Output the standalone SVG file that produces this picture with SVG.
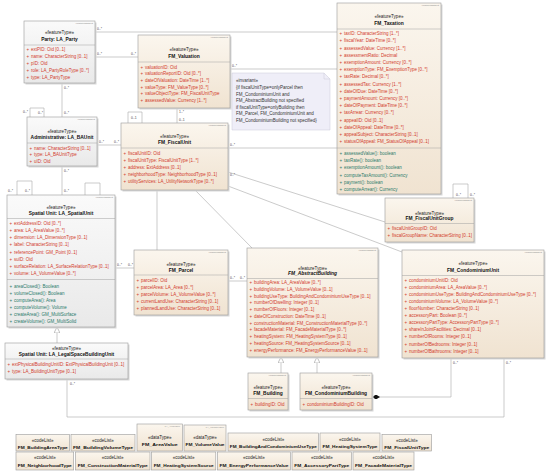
<svg xmlns="http://www.w3.org/2000/svg" width="550" height="471" viewBox="0 0 550 471">
<defs>
<linearGradient id="gb" x1="0" y1="0" x2="0" y2="1"><stop offset="0" stop-color="#fbf6ee"/><stop offset="1" stop-color="#f0e3d1"/></linearGradient>
<linearGradient id="gg" x1="0" y1="0" x2="0" y2="1"><stop offset="0" stop-color="#fafafa"/><stop offset="1" stop-color="#e9e9e9"/></linearGradient>
<marker id="gen" viewBox="0 0 10 10" refX="10" refY="5" markerWidth="6" markerHeight="6" markerUnits="userSpaceOnUse" orient="auto"><path d="M0,0 L10,5 L0,10 Z" fill="#fff" stroke="#999" stroke-width="1"/></marker>
<marker id="dia" viewBox="0 0 10 6" refX="0" refY="3" markerWidth="8" markerHeight="4.8" markerUnits="userSpaceOnUse" orient="auto"><path d="M0,3 L5,0 L10,3 L5,6 Z" fill="#111"/></marker>
</defs>
<style>
.b{fill:url(#gb);stroke:#9a9a9a;stroke-width:0.6}
.g{fill:url(#gg);stroke:#9a9a9a;stroke-width:0.6}
.sh{fill:#d8d8d8}
.s{stroke:#a0a0a0;stroke-width:0.5}
text{font-family:"Liberation Sans",Arial,sans-serif}
.st{font-size:4.5px;text-anchor:middle;fill:#222}
.n{font-size:4.9px;font-weight:bold;text-anchor:middle;fill:#111}
.cn{font-size:4.3px;font-weight:bold;text-anchor:middle;fill:#111}
.a{font-size:4.5px;fill:#d23b2c}
.o{font-size:4.5px;fill:#2b7b6b}
.v{font-size:2.4px;fill:#888;text-anchor:end}
.m{font-size:3.4px;fill:#444}
.c{fill:none;stroke:#a8a8a8;stroke-width:0.6}
.nt{fill:#efeef8;stroke:#c8c8d8;stroke-width:0.5}
.ntx{font-size:4.5px;fill:#333}
</style>

<g id="connectors">
<path class="c" d="M95,32 H337"/>
<path class="c" d="M95,57 H138"/>
<path class="c" d="M62,83 V117"/>
<path class="c" d="M97,145 H121"/>
<path class="c" d="M62,166 V195"/>
<path class="c" d="M177,108 V123"/>
<path class="c" d="M230,69 H337"/>
<path class="c" d="M228,148 H337"/>
<path class="c" d="M228,172 L385,222"/>
<path class="c" d="M228,186 L402,252"/>
<path class="c" d="M157,190 V250"/>
<path class="c" d="M195,190 L252,248"/>
<path class="c" d="M115,268 H134"/>
<path class="c" d="M228,281 H247"/>
<path class="c" d="M57,343 V327" marker-end="url(#gen)"/>
<path class="c" d="M281,373 V357" marker-end="url(#gen)"/>
<path class="c" d="M317,373 V357" marker-end="url(#gen)"/>
<path class="c" d="M372,397 H451 V358" marker-start="url(#dia)"/>
<path class="c" d="M67,379 V417 H504 V358"/>
<path class="c" d="M17,195 V181 H32 V195"/>
<path class="c" d="M85,195 V183 H100 V195"/>
<path class="c" d="M128,123 V112 H142 V123"/>
<path class="c" d="M453,198 V184 H468 V198"/>
<path class="c" d="M30,117 V108 H44 V117"/>
<text class="m" x="97" y="30">0..*</text>
<text class="m" x="97" y="55">0..*</text>
<text class="m" x="131" y="55">0..*</text>
<text class="m" x="64" y="89">0..*</text>
<text class="m" x="64" y="114">0..*</text>
<text class="m" x="23" y="113">0..*</text>
<text class="m" x="38" y="114">0..*</text>
<text class="m" x="99" y="143">0..*</text>
<text class="m" x="114" y="143">0..*</text>
<text class="m" x="64" y="172">0..*</text>
<text class="m" x="64" y="192">0..*</text>
<text class="m" x="179" y="113">1..*</text>
<text class="m" x="179" y="121">0..1</text>
<text class="m" x="131" y="119">0..1</text>
<text class="m" x="232" y="67">0..*</text>
<text class="m" x="230" y="146">0..*</text>
<text class="m" x="230" y="176">0..*</text>
<text class="m" x="8" y="192">0..*</text>
<text class="m" x="25" y="192">0..*</text>
<text class="m" x="117" y="266">0..*</text>
<text class="m" x="128" y="266">0..*</text>
<text class="m" x="230" y="279">0..*</text>
<text class="m" x="240" y="279">0..*</text>
<text class="m" x="456" y="196">0..*</text>
<text class="m" x="470" y="196">0..*</text>
<text class="m" x="453" y="364">0..*</text>
<text class="m" x="506" y="364">0..*</text>
<text class="m" x="70" y="385">0..*</text>
</g>

<g id="party">
<rect class="sh" x="25.5" y="22.5" width="71" height="62"/>
<rect class="g" x="24" y="21" width="71" height="62"/>
<line class="s" x1="24" y1="45" x2="95" y2="45"/>
<text class="v" x="93" y="24">VersionedObject</text>
<text class="st" x="59.5" y="34.3">«featureType»</text>
<text class="n" x="59.5" y="41">Party: LA_Party</text>
<text class="a" x="26.5" y="51">+<tspan x="31">extPID: Oid [0..1]</tspan></text>
<text class="a" x="26.5" y="58">+<tspan x="31">name: CharacterString [0..1]</tspan></text>
<text class="a" x="26.5" y="65">+<tspan x="31">pID: Oid</tspan></text>
<text class="a" x="26.5" y="72">+<tspan x="31">role: LA_PartyRoleType [0..*]</tspan></text>
<text class="a" x="26.5" y="79">+<tspan x="31">type: LA_PartyType</tspan></text>
</g>

<g id="valuation">
<rect class="sh" x="139.5" y="36.5" width="92" height="73"/>
<rect class="b" x="138" y="35" width="92" height="73"/>
<line class="s" x1="138" y1="62" x2="230" y2="62"/>
<text class="v" x="228" y="38">VersionedObject</text>
<text class="st" x="184" y="50.6">«featureType»</text>
<text class="n" x="184" y="57.6">FM_Valuation</text>
<text class="a" x="140.5" y="68.6">+<tspan x="145">valuationID: Oid</tspan></text>
<text class="a" x="140.5" y="75.3">+<tspan x="145">valuationReportID: Oid [0..*]</tspan></text>
<text class="a" x="140.5" y="82">+<tspan x="145">dateOfValuation: DateTime [1..*]</tspan></text>
<text class="a" x="140.5" y="88.7">+<tspan x="145">valueType: FM_ValueType [0..*]</tspan></text>
<text class="a" x="140.5" y="95.4">+<tspan x="145">valueObjectType: FM_FiscalUnitType</tspan></text>
<text class="a" x="140.5" y="102.1">+<tspan x="145">assessedValue: Currency [1..*]</tspan></text>
</g>

<g id="invariant">
<path class="nt" d="M232,73 H324 L330,79 V130 H232 Z"/>
<path d="M324,73 V79 H330" fill="none" stroke="#c8c8d8" stroke-width="0.5"/>
<text class="ntx" x="236" y="82">«invariant»</text>
<text class="ntx" x="236" y="89">{if fiscalUnitType=onlyParcel then</text>
<text class="ntx" x="236" y="95.5">FM_CondominiumUnit and</text>
<text class="ntx" x="236" y="102">FM_AbstractBuilding  not specified</text>
<text class="ntx" x="236" y="108.5">if fiscalUnitType=onlyBuilding then</text>
<text class="ntx" x="236" y="115">FM_Parcel, FM_CondominiumUnit and</text>
<text class="ntx" x="236" y="121.5">FM_CondominiumBuilding not specified}</text>
</g>

<g id="taxation">
<rect class="sh" x="338.5" y="4.5" width="104" height="191"/>
<rect class="b" x="337" y="3" width="104" height="191"/>
<line class="s" x1="337" y1="29" x2="441" y2="29"/>
<line class="s" x1="337" y1="148" x2="441" y2="148"/>
<text class="v" x="439" y="6">VersionedObject</text>
<text class="st" x="389" y="17.6">«featureType»</text>
<text class="n" x="389" y="25.3">FM_Taxation</text>
<text class="a" x="339.5" y="35.1">+<tspan x="344">taxID: CharacterString [1..*]</tspan></text>
<text class="a" x="339.5" y="42.3">+<tspan x="344">fiscalYear: DateTime [0..*]</tspan></text>
<text class="a" x="339.5" y="49.5">+<tspan x="344">assessedValue: Currency [1..*]</tspan></text>
<text class="a" x="339.5" y="56.7">+<tspan x="344">assessmentRatio: Decimal</tspan></text>
<text class="a" x="339.5" y="63.9">+<tspan x="344">exemptionAmount: Currency [0..*]</tspan></text>
<text class="a" x="339.5" y="71.1">+<tspan x="344">exemptionType: FM_ExemptionType [0..*]</tspan></text>
<text class="a" x="339.5" y="78.3">+<tspan x="344">taxRate: Decimal [0..*]</tspan></text>
<text class="a" x="339.5" y="85.5">+<tspan x="344">assessedTax: Currency [1..*]</tspan></text>
<text class="a" x="339.5" y="92.7">+<tspan x="344">dateOfDue: DateTime [0..*]</tspan></text>
<text class="a" x="339.5" y="99.9">+<tspan x="344">paymentAmount: Currency [0..*]</tspan></text>
<text class="a" x="339.5" y="107.1">+<tspan x="344">dateOfPayment: DateTime [0..*]</tspan></text>
<text class="a" x="339.5" y="114.3">+<tspan x="344">taxArrear: Currency [0..*]</tspan></text>
<text class="a" x="339.5" y="121.5">+<tspan x="344">appealID: Oid [0..1]</tspan></text>
<text class="a" x="339.5" y="128.7">+<tspan x="344">dateOfAppeal: DateTime [0..*]</tspan></text>
<text class="a" x="339.5" y="135.9">+<tspan x="344">appealSubject: CharacterString [0..1]</tspan></text>
<text class="a" x="339.5" y="143.1">+<tspan x="344">statusOfAppeal: FM_StatusOfAppeal [0..1]</tspan></text>
<text class="o" x="339.5" y="154.9">+<tspan x="344">assessedValue(): boolean</tspan></text>
<text class="o" x="339.5" y="162.1">+<tspan x="344">taxRate(): boolean</tspan></text>
<text class="o" x="339.5" y="169.3">+<tspan x="344">exemptionAmount(): boolean</tspan></text>
<text class="o" x="339.5" y="176.5">+<tspan x="344">computeTaxAmount(): Currency</tspan></text>
<text class="o" x="339.5" y="183.7">+<tspan x="344">payment(): boolean</tspan></text>
<text class="o" x="339.5" y="190.9">+<tspan x="344">computeArrear(): Currency</tspan></text>
</g>

<g id="administrative">
<rect class="sh" x="28.5" y="118.5" width="70" height="49"/>
<rect class="g" x="27" y="117" width="70" height="49"/>
<line class="s" x1="27" y1="143" x2="97" y2="143"/>
<text class="v" x="95" y="120">VersionedObject</text>
<text class="st" x="62" y="132.6">«featureType»</text>
<text class="n" x="62" y="138.8">Administrative: LA_BAUnit</text>
<text class="a" x="29.5" y="149.6">+<tspan x="34">name: CharacterString [0..1]</tspan></text>
<text class="a" x="29.5" y="156.3">+<tspan x="34">type: LA_BAUnitType</tspan></text>
<text class="a" x="29.5" y="163">+<tspan x="34">uID: Oid</tspan></text>
</g>

<g id="fiscalunit">
<rect class="sh" x="122.5" y="124.5" width="107" height="67"/>
<rect class="b" x="121" y="123" width="107" height="67"/>
<line class="s" x1="121" y1="148" x2="228" y2="148"/>
<text class="v" x="226" y="126">VersionedObject</text>
<text class="st" x="174.5" y="137.6">«featureType»</text>
<text class="n" x="174.5" y="143.8">FM_FiscalUnit</text>
<text class="a" x="123.5" y="155">+<tspan x="128">fiscalUnitID: Oid</tspan></text>
<text class="a" x="123.5" y="162">+<tspan x="128">fiscalUnitType: FiscalUnitType [1..*]</tspan></text>
<text class="a" x="123.5" y="169">+<tspan x="128">address: ExtAddress [0..1]</tspan></text>
<text class="a" x="123.5" y="176">+<tspan x="128">neighborhoodType: NeighborhoodType [0..1]</tspan></text>
<text class="a" x="123.5" y="183">+<tspan x="128">utilityServices: LA_UtilityNetworkType [0..*]</tspan></text>
</g>

<g id="spatialunit">
<rect class="sh" x="8.5" y="196.5" width="108" height="132"/>
<rect class="g" x="7" y="195" width="108" height="132"/>
<line class="s" x1="7" y1="218.5" x2="115" y2="218.5"/>
<line class="s" x1="7" y1="279.5" x2="115" y2="279.5"/>
<text class="v" x="113" y="198">VersionedObject</text>
<text class="st" x="61" y="208.6">«featureType»</text>
<text class="n" x="61" y="214.8">Spatial Unit: LA_SpatialUnit</text>
<text class="a" x="9.5" y="225.1">+<tspan x="14">extAddressID: Oid [0..*]</tspan></text>
<text class="a" x="9.5" y="232.2">+<tspan x="14">area: LA_AreaValue [0..*]</tspan></text>
<text class="a" x="9.5" y="239.3">+<tspan x="14">dimension: LA_DimensionType [0..1]</tspan></text>
<text class="a" x="9.5" y="246.4">+<tspan x="14">label: CharacterString [0..1]</tspan></text>
<text class="a" x="9.5" y="253.5">+<tspan x="14">referencePoint: GM_Point [0..1]</tspan></text>
<text class="a" x="9.5" y="260.6">+<tspan x="14">suID: Oid</tspan></text>
<text class="a" x="9.5" y="267.7">+<tspan x="14">surfaceRelation: LA_SurfaceRelationType [0..1]</tspan></text>
<text class="a" x="9.5" y="274.8">+<tspan x="14">volume: LA_VolumeValue [0..*]</tspan></text>
<text class="o" x="9.5" y="287.6">+<tspan x="14">areaClosed(): Boolean</tspan></text>
<text class="o" x="9.5" y="294.7">+<tspan x="14">volumeClosed(): Boolean</tspan></text>
<text class="o" x="9.5" y="301.8">+<tspan x="14">computeArea(): Area</tspan></text>
<text class="o" x="9.5" y="308.9">+<tspan x="14">computeVolume(): Volume</tspan></text>
<text class="o" x="9.5" y="316">+<tspan x="14">createArea(): GM_MultiSurface</tspan></text>
<text class="o" x="9.5" y="323.1">+<tspan x="14">createVolume(): GM_MultiSolid</tspan></text>
</g>

<g id="parcel">
<rect class="sh" x="135.5" y="251.5" width="94" height="65"/>
<rect class="b" x="134" y="250" width="94" height="65"/>
<line class="s" x1="134" y1="275" x2="228" y2="275"/>
<text class="v" x="226" y="253">VersionedObject</text>
<text class="st" x="181" y="265.6">«featureType»</text>
<text class="n" x="181" y="271.6">FM_Parcel</text>
<text class="a" x="136.5" y="281.6">+<tspan x="141">parcelID: Oid</tspan></text>
<text class="a" x="136.5" y="288.8">+<tspan x="141">parcelArea: LA_Area [0..*]</tspan></text>
<text class="a" x="136.5" y="296">+<tspan x="141">parcelVolume: LA_VolumeValue [0..*]</tspan></text>
<text class="a" x="136.5" y="303.2">+<tspan x="141">currentLandUse: CharacterString [0..1]</tspan></text>
<text class="a" x="136.5" y="310.4">+<tspan x="141">plannedLandUse: CharacterString [0..1]</tspan></text>
</g>

<g id="abstractbuilding">
<rect class="sh" x="248.5" y="249.5" width="131" height="109"/>
<rect class="b" x="247" y="248" width="131" height="109"/>
<line class="s" x1="247" y1="278.5" x2="378" y2="278.5"/>
<text class="v" x="376" y="251">VersionedObject</text>
<text class="st" x="312.5" y="269.6">«featureType»</text>
<text class="n" x="312.5" y="275.3" font-style="italic">FM_AbstractBuilding</text>
<text class="a" x="249.5" y="284.1">+<tspan x="254">buildingArea: LA_AreaValue [0..*]</tspan></text>
<text class="a" x="249.5" y="290.85">+<tspan x="254">buildingVolume: LA_VolumeValue [0..1]</tspan></text>
<text class="a" x="249.5" y="297.6">+<tspan x="254">buildingUseType: BuildingAndCondominiumUseType [0..1]</tspan></text>
<text class="a" x="249.5" y="304.35">+<tspan x="254">numberOfDwelling: Integer [0..1]</tspan></text>
<text class="a" x="249.5" y="311.1">+<tspan x="254">numberOfFloors: Integer [0..1]</tspan></text>
<text class="a" x="249.5" y="317.85">+<tspan x="254">dateOfConstruction: DateTime [0..1]</tspan></text>
<text class="a" x="249.5" y="324.6">+<tspan x="254">constructionMaterial: FM_ConstructionMaterialType [0..*]</tspan></text>
<text class="a" x="249.5" y="331.35">+<tspan x="254">facadeMaterial: FM_FacadeMaterialType [0..*]</tspan></text>
<text class="a" x="249.5" y="338.1">+<tspan x="254">heatingSystem: FM_HeatingSystemType [0..1]</tspan></text>
<text class="a" x="249.5" y="344.85">+<tspan x="254">heatingSource: FM_HeatingSystemSource [0..1]</tspan></text>
<text class="a" x="249.5" y="351.6">+<tspan x="254">energyPerformance: FM_EnergyPerformanceValue [0..1]</tspan></text>
</g>

<g id="fiscalunitgroup">
<rect class="sh" x="386.5" y="199.5" width="89" height="44"/>
<rect class="b" x="385" y="198" width="89" height="44"/>
<line class="s" x1="385" y1="223.5" x2="474" y2="223.5"/>
<text class="v" x="472" y="201">VersionedObject</text>
<text class="st" x="429.5" y="214.6">«featureType»</text>
<text class="n" x="429.5" y="220.1">FM_FiscalUnitGroup</text>
<text class="a" x="387.5" y="229.6">+<tspan x="392">fiscalUnitGroupID: Oid</tspan></text>
<text class="a" x="387.5" y="236.6">+<tspan x="392">fiscalGroupName: CharacterString [0..1]</tspan></text>
</g>

<g id="condominiumunit">
<rect class="sh" x="403.5" y="251.5" width="142" height="108"/>
<rect class="b" x="402" y="250" width="142" height="108"/>
<line class="s" x1="402" y1="275.5" x2="544" y2="275.5"/>
<text class="v" x="542" y="253">VersionedObject</text>
<text class="st" x="473" y="264.6">«featureType»</text>
<text class="n" x="473" y="271.6">FM_CondominiumUnit</text>
<text class="a" x="404.5" y="281.6">+<tspan x="409">condominiumUnitID: Oid</tspan></text>
<text class="a" x="404.5" y="288.7">+<tspan x="409">condominiumArea: LA_AreaValue [0..*]</tspan></text>
<text class="a" x="404.5" y="295.8">+<tspan x="409">condominiumUseType: BuildingAndCondominiumUseType [0..*]</tspan></text>
<text class="a" x="404.5" y="302.9">+<tspan x="409">condominiumVolume: LA_VolumeValue [0..*]</tspan></text>
<text class="a" x="404.5" y="310">+<tspan x="409">floorNumber: CharacterString [0..1]</tspan></text>
<text class="a" x="404.5" y="317.1">+<tspan x="409">accessoryPart: Boolean [0..*]</tspan></text>
<text class="a" x="404.5" y="324.2">+<tspan x="409">accessoryPartType: AccessoryPartType [0..*]</tspan></text>
<text class="a" x="404.5" y="331.3">+<tspan x="409">shareInJointFacilities: Decimal [0..1]</tspan></text>
<text class="a" x="404.5" y="338.4">+<tspan x="409">numberOfRooms: Integer [0..1]</tspan></text>
<text class="a" x="404.5" y="345.5">+<tspan x="409">numberOfBedrooms: Integer [0..1]</tspan></text>
<text class="a" x="404.5" y="352.6">+<tspan x="409">numberOfBathrooms: Integer [0..1]</tspan></text>
</g>

<g id="legalspace">
<rect class="sh" x="6.5" y="344.5" width="123" height="36"/>
<rect class="g" x="5" y="343" width="123" height="36"/>
<line class="s" x1="5" y1="359" x2="128" y2="359"/>
<text class="st" x="66.5" y="349.6">«featureType»</text>
<text class="n" x="66.5" y="355.6">Spatial Unit: LA_LegalSpaceBuildingUnit</text>
<text class="a" x="7.5" y="365.6">+<tspan x="12">extPhysicalBuildingUnitID: ExtPhysicalBuildingUnit [0..1]</tspan></text>
<text class="a" x="7.5" y="373.1">+<tspan x="12">type: LA_BuildingUnitType [0..1]</tspan></text>
</g>

<g id="building">
<rect class="sh" x="249.5" y="374.5" width="40" height="37"/>
<rect class="b" x="248" y="373" width="40" height="37"/>
<line class="s" x1="248" y1="398.5" x2="288" y2="398.5"/>
<text class="v" x="286" y="376">VersionedObject</text>
<text class="st" x="268" y="388.6">«featureType»</text>
<text class="n" x="268" y="394.6">FM_Building</text>
<text class="a" x="250.5" y="405.6">+<tspan x="255">buildingID: Oid</tspan></text>
</g>

<g id="condominiumbuilding">
<rect class="sh" x="301.5" y="374.5" width="72" height="37"/>
<rect class="b" x="300" y="373" width="72" height="37"/>
<line class="s" x1="300" y1="398.5" x2="372" y2="398.5"/>
<text class="v" x="370" y="376">VersionedObject</text>
<text class="st" x="336" y="388.6">«featureType»</text>
<text class="n" x="336" y="394.6">FM_CondominiumBuilding</text>
<text class="a" x="302.5" y="405.6">+<tspan x="307">condominiumBuildingID: Oid</tspan></text>
</g>

<g id="codelists">
<g id="cl-buildingareatype"><rect class="b" x="16" y="434.5" width="53.5" height="16.5"/><text class="st" x="42.75" y="441.6">«codeList»</text><text class="cn" x="42.75" y="448.6" textLength="50" lengthAdjust="spacingAndGlyphs">FM_BuildingAreaType</text></g>
<g id="cl-buildingvolumetype"><rect class="b" x="71" y="434.5" width="64" height="16.5"/><text class="st" x="103" y="441.6">«codeList»</text><text class="cn" x="103" y="448.6" textLength="60" lengthAdjust="spacingAndGlyphs">FM_BuildingVolumeType</text></g>
<g id="dt-areavalue"><rect class="b" x="137" y="424" width="45.5" height="27"/><text class="v" x="180" y="427">LA_AreaValue</text><text class="st" x="159.75" y="438.6">«dataType»</text><text class="cn" x="159.75" y="445.6" textLength="36" lengthAdjust="spacingAndGlyphs">FM_AreaValue</text></g>
<g id="dt-volumevalue"><rect class="b" x="184" y="425" width="42" height="26"/><text class="v" x="224" y="428">LA_VolumeValue</text><text class="st" x="205" y="438.6">«dataType»</text><text class="cn" x="205" y="445.6" textLength="39" lengthAdjust="spacingAndGlyphs">FM_VolumeValue</text></g>
<g id="cl-buildingandcondominiumusetype"><rect class="b" x="228" y="433" width="90.6" height="18"/><text class="st" x="273.3" y="440.6">«codeList»</text><text class="cn" x="273.3" y="447.6" textLength="87" lengthAdjust="spacingAndGlyphs">FM_BuildingAndCondominiumUseType</text></g>
<g id="cl-heatingsystemtype"><rect class="b" x="320" y="433" width="60" height="18"/><text class="st" x="350" y="440.6">«codeList»</text><text class="cn" x="350" y="447.6" textLength="55" lengthAdjust="spacingAndGlyphs">FM_HeatingSystemType</text></g>
<g id="cl-fiscalunittype"><rect class="b" x="382" y="434.5" width="49.6" height="16.5"/><text class="st" x="406.8" y="441.6">«codeList»</text><text class="cn" x="406.8" y="448.6" textLength="45" lengthAdjust="spacingAndGlyphs">FM_FiscalUnitType</text></g>
<g id="cl-neighborhoodtype"><rect class="b" x="16" y="452" width="57.7" height="18"/><text class="st" x="44.85" y="459">«codeList»</text><text class="cn" x="44.85" y="466.5" textLength="54" lengthAdjust="spacingAndGlyphs">FM_NeighborhoodType</text></g>
<g id="cl-constructionmaterialtype"><rect class="b" x="75.4" y="452" width="74.6" height="18"/><text class="st" x="112.7" y="459">«codeList»</text><text class="cn" x="112.7" y="466.5" textLength="70" lengthAdjust="spacingAndGlyphs">FM_ConstructionMaterialType</text></g>
<g id="cl-heatingsystemsource"><rect class="b" x="151.6" y="452" width="64.2" height="18"/><text class="st" x="183.7" y="459">«codeList»</text><text class="cn" x="183.7" y="466.5" textLength="60" lengthAdjust="spacingAndGlyphs">FM_HeatingSystemSource</text></g>
<g id="cl-energyperformancevalue"><rect class="b" x="217.5" y="452" width="73" height="18"/><text class="st" x="254" y="459">«codeList»</text><text class="cn" x="254" y="466.5" textLength="69" lengthAdjust="spacingAndGlyphs">FM_EnergyPerformanceValue</text></g>
<g id="cl-accessoryparttype"><rect class="b" x="292" y="452" width="59.6" height="18"/><text class="st" x="321.8" y="459">«codeList»</text><text class="cn" x="321.8" y="466.5" textLength="55" lengthAdjust="spacingAndGlyphs">FM_AccessoryPartType</text></g>
<g id="cl-facadematerialtype"><rect class="b" x="353" y="452" width="61" height="18"/><text class="st" x="383.5" y="459">«codeList»</text><text class="cn" x="383.5" y="466.5" textLength="57" lengthAdjust="spacingAndGlyphs">FM_FacadeMaterialType</text></g>
</g>
</svg>
